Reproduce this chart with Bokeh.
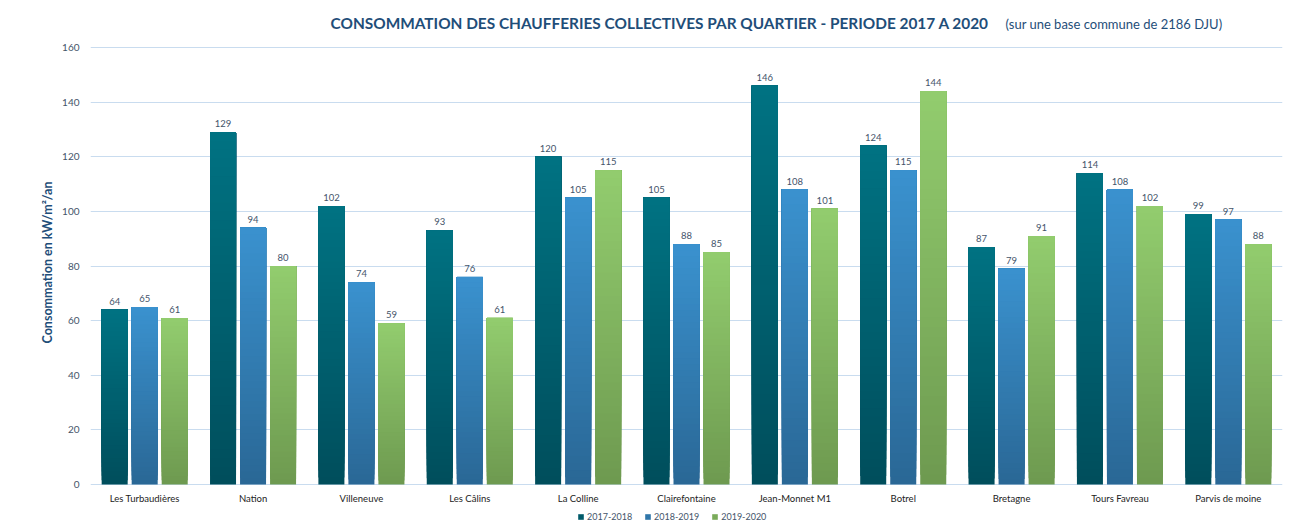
from bokeh.plotting import figure
from bokeh.models import (ColumnDataSource, Label, Legend, LegendItem, FixedTicker)
from bokeh.embed import file_html
from bokeh.resources import INLINE

categories = ["Les Turbaudières", "Nation", "Villeneuve", "Les Câlins", "La Colline",
              "Clairefontaine", "Jean-Monnet M1", "Botrel", "Bretagne",
              "Tours Favreau", "Parvis de moine"]
series_names = ["2017-2018", "2018-2019", "2019-2020"]
s2017 = [64, 129, 102, 93, 120, 105, 146, 124, 87, 114, 99]
s2018 = [65, 94, 74, 76, 105, 88, 108, 115, 79, 108, 97]
s2019 = [61, 80, 59, 61, 115, 85, 101, 144, 91, 102, 88]
y_ticks = [0, 20, 40, 60, 80, 100, 120, 140, 160]

FONT = "Lato"
TXT = "#44546a"
TITLE_C = "#1f4e79"
# (top colour, bottom colour)
palette = [((0, 114, 130), (0, 78, 92)),
           ((58, 145, 206), (42, 104, 150)),
           ((146, 204, 110), (110, 154, 80))]

# frame spans the full canvas height; the 0..160 value band sits at 47..484 px
PX = 437 / 160.0
p = figure(width=1301, height=524, x_range=(0, 11),
           y_range=(-40 / PX, 160 + 47 / PX),
           output_backend="svg", toolbar_location=None,
           min_border_left=90, min_border_right=19, min_border_top=0,
           min_border_bottom=0)
p.outline_line_color = None
p.background_fill_color = "white"
p.border_fill_color = "white"
p.xaxis.visible = False

p.xgrid.grid_line_color = None
p.ygrid.grid_line_color = "#c9dcef"
p.ygrid.grid_line_width = 1
p.ygrid.ticker = FixedTicker(ticks=y_ticks)

p.yaxis.ticker = FixedTicker(ticks=y_ticks)
p.yaxis.axis_line_color = None
p.yaxis.major_tick_line_color = None
p.yaxis.minor_tick_line_color = None
p.yaxis.major_label_text_color = TXT
p.yaxis.major_label_text_font = FONT
p.yaxis.major_label_text_font_size = "10px"
p.yaxis.major_label_standoff = 5
p.yaxis.axis_label = "Consommation en kW/m²/an"
p.yaxis.axis_label_text_font = FONT
p.yaxis.axis_label_text_font_style = "bold"
p.yaxis.axis_label_text_font_size = "12.5px"
p.yaxis.axis_label_text_color = TITLE_C
p.yaxis.axis_label_standoff = 4

# category labels under the value axis
cat_src = ColumnDataSource(dict(x=[i + 0.5 for i in range(len(categories))],
                                y=[0] * len(categories), t=categories))
p.text(x="x", y="y", text="t", source=cat_src, text_align="center",
       text_baseline="top", y_offset=8, text_font_size="9.5px",
       text_color="#222222", text_font={"value": FONT})

N = 40
step = 0.277
bw = 0.24
legend_items = []
for si, (vals, (top_c, bot_c), name) in enumerate(zip([s2017, s2018, s2019], palette, series_names)):
    off = (si - 1) * step
    xs, tops, bots, cols = [], [], [], []
    for k in range(N):
        t = k / (N - 1)
        rgb = tuple(int(round(bot_c[j] + (top_c[j] - bot_c[j]) * t)) for j in range(3))
        for i, v in enumerate(vals):
            xs.append(i + 0.5 + off)
            bots.append(v * k / N)
            tops.append(v)
            cols.append("#%02x%02x%02x" % rgb)
    src = ColumnDataSource(dict(x=xs, top=tops, bottom=bots, color=cols))
    r = p.vbar(x="x", top="top", bottom="bottom", width=bw, source=src,
               fill_color="color", line_color=None)
    lab_src = ColumnDataSource(dict(x=[i + 0.5 + off for i in range(len(vals))],
                                    y=vals, t=[str(v) for v in vals]))
    p.text(x="x", y="y", text="t", source=lab_src, text_align="center",
           text_baseline="bottom", y_offset=-5, text_font_size="9.5px",
           text_color=TXT, text_font={"value": FONT})
    legend_items.append(LegendItem(label=name, renderers=[r],
                                   index=(N // 3) * len(vals)))

legend = Legend(items=legend_items, orientation="horizontal", location=(487, 2),
                glyph_width=7, glyph_height=7, label_text_font_size="9px",
                label_text_color=TXT, label_text_font=FONT, spacing=12,
                label_standoff=3, border_line_color=None, background_fill_alpha=0,
                padding=0, margin=0, label_height=9)
p.add_layout(legend, "center")

p.add_layout(Label(x=2.215, y=160 + 25 / PX,
                   text="CONSOMMATION DES CHAUFFERIES COLLECTIVES PAR QUARTIER - PERIODE 2017 A 2020",
                   text_font=FONT, text_font_style="bold", text_font_size="15.4px",
                   text_color=TITLE_C, text_baseline="middle"))
p.add_layout(Label(x=8.444, y=160 + 24 / PX,
                   text="(sur une base commune de 2186 DJU)",
                   text_font=FONT, text_font_size="13px",
                   text_color=TITLE_C, text_baseline="middle"))

open("out.html", "w").write(file_html(p, INLINE))
